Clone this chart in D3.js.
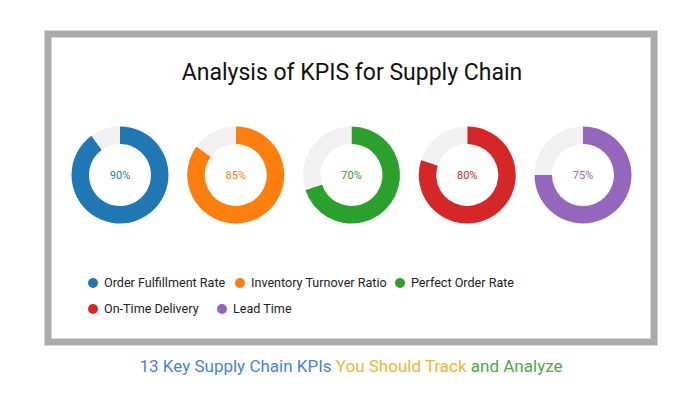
<!DOCTYPE html><html><head><meta charset="utf-8">
<script src="https://cdn.jsdelivr.net/npm/d3@7"></script>
<style>body{margin:0;background:#fff}svg{display:block}</style></head><body>
<svg width="698" height="400"></svg>
<script>
const categories=["Order Fulfillment Rate","Inventory Turnover Ratio","Perfect Order Rate","On-Time Delivery","Lead Time"];
const values=[90,85,70,80,75];
const colors=["#1f77b4","#ff7f0e","#2ca02c","#d62728","#9467bd"];
const svg=d3.select("svg");
svg.append("rect").attr("x",48).attr("y",34).attr("width",606).attr("height",308).attr("fill","#fff").attr("stroke","#aaaaaa").attr("stroke-width",7);
svg.append("text").attr("x",352).attr("y",80).attr("text-anchor","middle").attr("font-family","Roboto").attr("font-size",23).attr("fill","#111").text("Analysis of KPIS for Supply Chain");
const x=d3.scalePoint().domain(categories).range([120,583]);
const pie=d3.pie().sort(null).value(d=>d);
const arc=d3.arc().innerRadius(31).outerRadius(48.5);
categories.forEach((c,i)=>{
  const g=svg.append("g").attr("transform",`translate(${x(c)},175)`);
  g.selectAll("path").data(pie([values[i],100-values[i]])).join("path").attr("d",arc).attr("fill",(d,j)=>j?"#f1f1f1":colors[i]);
  g.append("text").attr("text-anchor","middle").attr("dy","0.35em").attr("font-family","Roboto").attr("font-size",11).attr("fill",colors[i]).text(values[i]+"%");
});
const legPos=[[93,283],[240,283],[400,283],[93,309],[222,309]];
categories.forEach((c,i)=>{
  const g=svg.append("g").attr("transform",`translate(${legPos[i][0]},${legPos[i][1]})`);
  g.append("circle").attr("r",5).attr("fill",colors[i]);
  g.append("text").attr("x",11).attr("dy","0.35em").attr("font-family","Roboto").attr("font-size",12.6).attr("fill","#222").text(c);
});
const t=svg.append("text").attr("x",351).attr("y",372).attr("text-anchor","middle").attr("font-family","Roboto").attr("font-size",17);
t.append("tspan").attr("fill","#4a7fd9").text("13 Key Supply Chain KPIs ");
t.append("tspan").attr("fill","#f2b43a").text("You Should Track ");
t.append("tspan").attr("fill","#4fa64a").text("and Analyze");
</script></body></html>
